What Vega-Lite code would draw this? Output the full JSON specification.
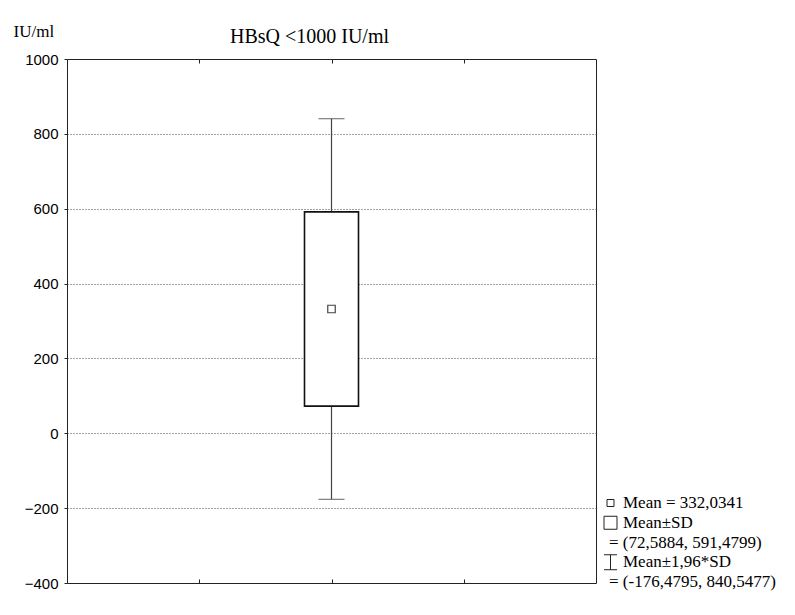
{
  "$schema": "https://vega.github.io/schema/vega-lite/v6.json",
  "background": "white",
  "autosize": {"type": "pad"},
  "padding": {"left": 12, "top": 21, "right": 0, "bottom": 0},
  "spacing": 4,
  "config": {"view": {"stroke": null}},
  "hconcat": [
    {
      "width": 529,
      "height": 524,
      "view": {"stroke": "#222", "strokeWidth": 1},
      "title": {
        "text": "HBsQ <1000 IU/ml",
        "font": "Liberation Serif",
        "fontSize": 20,
        "fontWeight": "normal",
        "color": "black",
        "anchor": "middle",
        "frame": "group",
        "dx": -22,
        "offset": -25
      },
      "data": {"values": [
        {"group": "HBsQ <1000 IU/ml", "mean": 332.0341, "sdlo": 72.5884, "sdhi": 591.4799, "lo": -176.4795, "hi": 840.5477}
      ]},
      "resolve": {"axis": {"x": "independent"}},
      "layer": [
        {
          "mark": {"type": "rule", "color": "#444", "strokeWidth": 1.2},
          "encoding": {
            "x": {"field": "group", "type": "nominal",
                  "scale": {"type": "point", "domain": [" ", "HBsQ <1000 IU/ml", "  "], "padding": 1},
                  "axis": {"orient": "bottom", "labels": false, "title": null, "domain": false, "grid": false, "ticks": true, "tickSize": -4, "tickColor": "#222"}},
            "y": {"field": "lo", "type": "quantitative",
                  "scale": {"domain": [-400, 1000], "nice": false, "zero": false},
                  "axis": {
                    "values": [-400, -200, 0, 200, 400, 600, 800, 1000],
                    "format": "d",
                    "domain": false,
                    "grid": true,
                    "gridDash": [1, 2],
                    "gridColor": "#444",
                    "gridOpacity": {"condition": {"test": "datum.value == 1000 || datum.value == -400", "value": 0}, "value": 1},
                    "tickSize": 3,
                    "tickColor": "#222",
                    "labelFont": "Liberation Sans",
                    "labelFontSize": 15,
                    "labelColor": "black",
                    "labelPadding": 6,
                    "labelFlush": false,
                    "labelOverlap": false,
                    "title": "IU/ml",
                    "titleFont": "Liberation Serif",
                    "titleFontSize": 17,
                    "titleFontWeight": "normal",
                    "titleColor": "black",
                    "titleAngle": 0,
                    "titleAlign": "left",
                    "titleBaseline": "alphabetic",
                    "titleX": -54,
                    "titleY": -23
                  }},
            "y2": {"field": "hi"}
          }
        },
        {
          "mark": {"type": "tick", "orient": "horizontal", "size": 26, "thickness": 1.2, "color": "#444"},
          "encoding": {
            "x": {"field": "group", "type": "nominal", "axis": null},
            "y": {"field": "hi", "type": "quantitative"}
          }
        },
        {
          "mark": {"type": "tick", "orient": "horizontal", "size": 26, "thickness": 1.2, "color": "#444"},
          "encoding": {
            "x": {"field": "group", "type": "nominal", "axis": null},
            "y": {"field": "lo", "type": "quantitative"}
          }
        },
        {
          "mark": {"type": "bar", "size": 54, "fill": "white", "stroke": "#111", "strokeWidth": 1.6},
          "encoding": {
            "x": {"field": "group", "type": "nominal", "axis": null},
            "y": {"field": "sdlo", "type": "quantitative"},
            "y2": {"field": "sdhi"}
          }
        },
        {
          "mark": {"type": "point", "shape": "square", "size": 56, "filled": false, "color": "#444", "strokeWidth": 1.2, "opacity": 1},
          "encoding": {
            "x": {"field": "group", "type": "nominal",
                  "axis": {"orient": "top", "labels": false, "title": null, "domain": false, "grid": false, "ticks": true, "tickSize": -4, "tickColor": "#222"}},
            "y": {"field": "mean", "type": "quantitative"}
          }
        }
      ]
    },
    {
      "width": 19,
      "height": 524,
      "view": {"stroke": null},
      "data": {"values": [
        {"row": 0, "kind": "mean", "line": "first", "label": "Mean = 332,0341"},
        {"row": 1, "kind": "sd", "line": "first", "label": "Mean±SD"},
        {"row": 2, "kind": "none", "line": "cont", "label": "= (72,5884, 591,4799)"},
        {"row": 3, "kind": "ci", "line": "first", "label": "Mean±1,96*SD"},
        {"row": 4, "kind": "none", "line": "cont", "label": "= (-176,4795, 840,5477)"}
      ]},
      "encoding": {
        "y": {"field": "row", "type": "quantitative", "scale": {"domain": [0, 4], "range": [444, 523]}, "axis": null}
      },
      "layer": [
        {
          "transform": [{"filter": "datum.kind == 'mean'"}],
          "mark": {"type": "point", "shape": "square", "size": 49, "filled": false, "color": "#222", "strokeWidth": 1, "opacity": 1}
        },
        {
          "transform": [{"filter": "datum.kind == 'sd'"}],
          "mark": {"type": "point", "shape": "square", "size": 169, "filled": false, "color": "#222", "strokeWidth": 1, "opacity": 1}
        },
        {
          "transform": [{"filter": "datum.kind == 'ci'"}],
          "mark": {"type": "point", "shape": "M-1,-1.15H1M0,-1.15V1.15M-1,1.15H1", "size": 169, "filled": false, "color": "#222", "strokeWidth": 1, "opacity": 1}
        },
        {
          "transform": [{"filter": "datum.line == 'first'"}],
          "mark": {"type": "text", "align": "left", "baseline": "middle", "dx": 12.5, "font": "Liberation Serif", "fontSize": 17, "color": "black"},
          "encoding": {"text": {"field": "label"}}
        },
        {
          "transform": [{"filter": "datum.line == 'cont'"}],
          "mark": {"type": "text", "align": "left", "baseline": "middle", "dx": -1.5, "font": "Liberation Serif", "fontSize": 17, "color": "black"},
          "encoding": {"text": {"field": "label"}}
        }
      ]
    }
  ]
}
